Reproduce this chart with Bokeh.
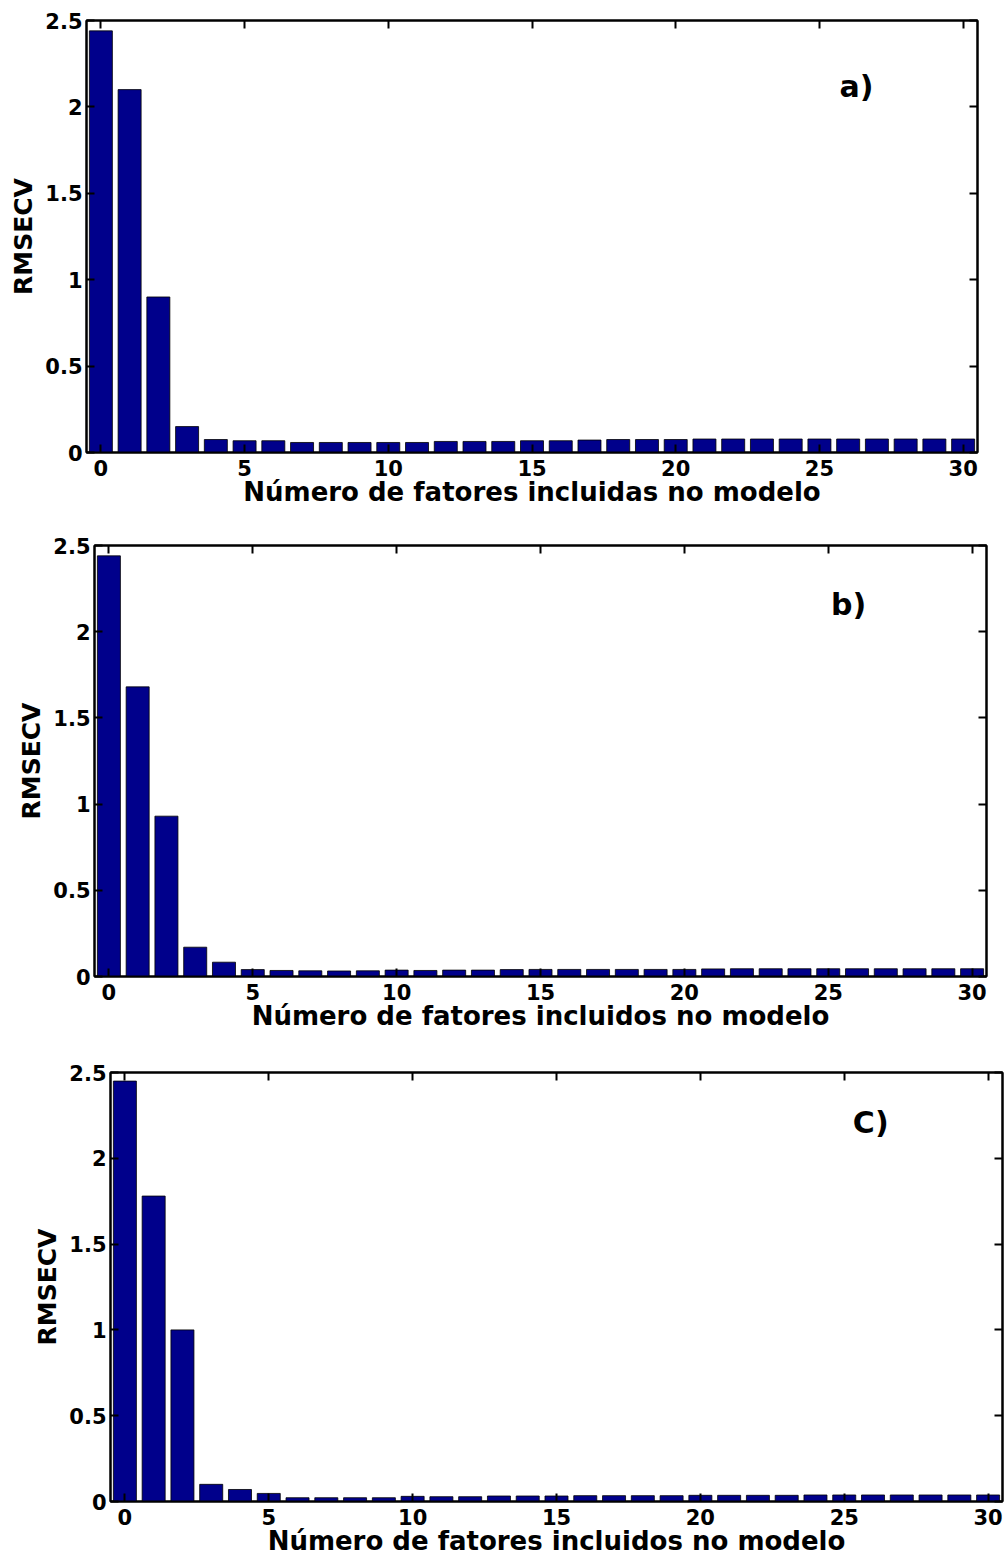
from bokeh.plotting import figure
from bokeh.layouts import column
from bokeh.models import FixedTicker, LinearAxis, Range1d, ColumnDataSource, Label
from bokeh.embed import file_html
from bokeh.resources import INLINE

# ---------------- data ----------------
factors = list(range(31))

rmsecv_a = [2.44, 2.10, 0.90, 0.15, 0.075, 0.068, 0.068, 0.058, 0.058, 0.058,
            0.058, 0.058, 0.064, 0.064, 0.064, 0.068, 0.068, 0.072, 0.075, 0.075,
            0.075, 0.078, 0.078, 0.078, 0.078, 0.078, 0.078, 0.078, 0.078, 0.078,
            0.078]

rmsecv_b = [2.44, 1.68, 0.93, 0.17, 0.083, 0.040, 0.035, 0.033, 0.032, 0.033,
            0.037, 0.035, 0.037, 0.037, 0.040, 0.041, 0.041, 0.041, 0.041, 0.041,
            0.041, 0.044, 0.045, 0.045, 0.045, 0.045, 0.045, 0.045, 0.045, 0.045,
            0.045]

rmsecv_c = [2.45, 1.78, 1.00, 0.10, 0.07, 0.047, 0.022, 0.022, 0.022, 0.022,
            0.030, 0.028, 0.028, 0.032, 0.032, 0.032, 0.034, 0.034, 0.034, 0.034,
            0.036, 0.036, 0.036, 0.036, 0.038, 0.038, 0.038, 0.038, 0.038, 0.038,
            0.038]

x_ticks = [0, 5, 10, 15, 20, 25, 30]
y_ticks = [0, 0.5, 1, 1.5, 2, 2.5]
y_tick_labels = ["0", "0.5", "1", "1.5", "2", "2.5"]

x_titles = ["Número de fatores incluidas no modelo",
            "Número de fatores incluidos no modelo",
            "Número de fatores incluidos no modelo"]
y_title = "RMSECV"
panel_tags = ["a)", "b)", "C)"]

# ---------------- style ----------------
FONT = "DejaVu Sans"
BAR_COLOR = "#00008B"


def make_panel(values, xtitle, tag, tag_x, tag_y, left, fw, right, top, fh, bottom):
    p = figure(frame_width=fw, frame_height=fh,
               min_border_left=left, min_border_right=right,
               min_border_top=top, min_border_bottom=bottom,
               x_range=Range1d(-0.5, 30.5), y_range=Range1d(0, 2.5),
               output_backend="svg", toolbar_location=None,
               background_fill_color="white", border_fill_color="white")
    p.frame_align = False
    p.grid.visible = False
    p.outline_line_color = "black"
    p.outline_line_width = 2

    src = ColumnDataSource(dict(x=factors, y=values))
    p.vbar(x="x", top="y", bottom=0, width=0.8, source=src,
           fill_color=BAR_COLOR, line_color="black", line_width=0.8)

    # extra axes (ticks only) on top and right
    p.add_layout(LinearAxis(), "above")
    p.add_layout(LinearAxis(), "right")

    for ax in p.xaxis:
        ax.ticker = FixedTicker(ticks=x_ticks)
    for ax in p.yaxis:
        ax.ticker = FixedTicker(ticks=y_ticks)
        ax.major_label_overrides = {float(t): s for t, s in zip(y_ticks, y_tick_labels)}

    for ax in list(p.xaxis) + list(p.yaxis):
        ax.major_tick_in = 8
        ax.major_tick_out = 0
        ax.minor_tick_line_color = None
        ax.major_tick_line_width = 2
        ax.axis_line_width = 2
        ax.axis_line_color = "black"
        ax.major_tick_line_color = "black"
        ax.major_label_text_font = FONT
        ax.major_label_text_font_style = "bold"
        ax.major_label_text_font_size = "21px"
        ax.major_label_text_color = "black"

    # hide labels of top / right axes
    for ax in (p.above[0], p.right[0]):
        ax.major_label_text_font_size = "1px"
        ax.major_label_text_color = None
        ax.major_label_standoff = 0

    bx = p.below[0]
    bx.axis_label = xtitle
    bx.axis_label_text_font = FONT
    bx.axis_label_text_font_style = "bold"
    bx.axis_label_text_font_size = "26px"
    bx.axis_label_text_color = "black"
    bx.major_label_standoff = 7
    bx.axis_label_standoff = -2

    ly = p.left[0]
    ly.axis_label = y_title
    ly.axis_label_text_font = FONT
    ly.axis_label_text_font_style = "bold"
    ly.axis_label_text_font_size = "25px"
    ly.axis_label_text_color = "black"
    ly.major_label_standoff = 4
    ly.axis_label_standoff = 4

    p.add_layout(Label(x=tag_x, y=tag_y, text=tag, text_font=FONT,
                       text_font_style="bold", text_font_size="30px",
                       text_align="left", text_baseline="middle",
                       text_color="black"))
    return p


pa = make_panel(rmsecv_a, x_titles[0], panel_tags[0], 25.7, 2.12,
                86, 891, 28, 20, 432, 68)
pb = make_panel(rmsecv_b, x_titles[1], panel_tags[1], 25.1, 2.16,
                94, 892, 19, 25, 431, 69)
pc = make_panel(rmsecv_c, x_titles[2], panel_tags[2], 25.3, 2.21,
                110, 892, 3, 27, 429, 57)

layout = column(pa, pb, pc, spacing=0)

open("out.html", "w").write(file_html(layout, INLINE))
